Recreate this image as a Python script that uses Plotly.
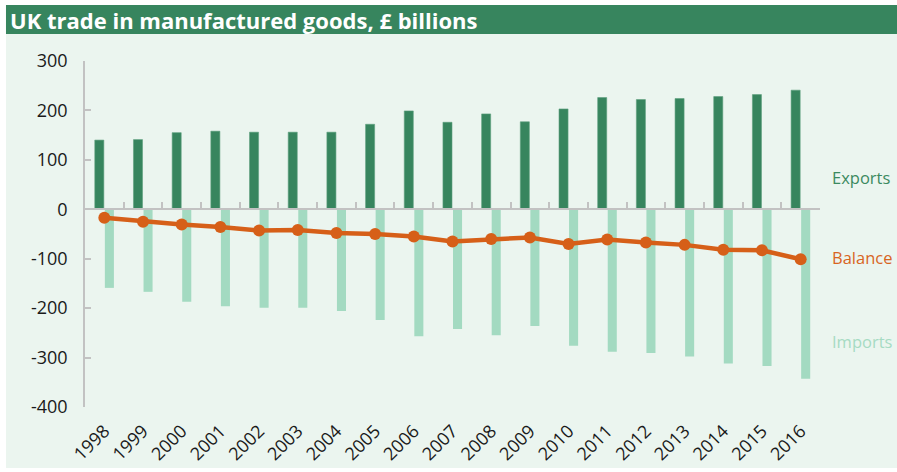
import plotly.graph_objects as go

# UK trade in manufactured goods, £ billions
years = [str(y) for y in range(1998, 2017)]
exports = [140, 141, 155, 158, 156, 156, 156, 172, 199, 176,
           193, 177, 203, 226, 222, 224, 228, 232, 241]
imports = [-159, -167, -187, -196, -199, -199, -206, -224, -257, -242,
           -255, -236, -276, -288, -291, -298, -312, -317, -343]
balance = [-17, -25, -31, -36, -43, -42, -48, -50, -55, -65,
           -60, -57, -70, -61, -67, -72, -82, -83, -101]

y_ticks = [300, 200, 100, 0, -100, -200, -300, -400]

DARK_GREEN = "#37855E"
LIGHT_GREEN = "#A3DAC1"
ORANGE = "#D65F18"
PANEL = "#EBF5EF"
AXIS_GREY = "#C2C2C2"
FONT = "Open Sans"

fig = go.Figure()

fig.add_trace(go.Bar(
    x=years, y=exports, name="Exports",
    marker=dict(color=DARK_GREEN, line=dict(color="#5E9F7D", width=0.6)),
))
fig.add_trace(go.Bar(
    x=years, y=imports, name="Imports",
    marker=dict(color=LIGHT_GREEN, line=dict(width=0)),
))
fig.add_trace(go.Scatter(
    x=years, y=balance, name="Balance", mode="lines+markers",
    line=dict(color=ORANGE, width=4.5),
    marker=dict(color=ORANGE, size=12),
))
# carrier trace for the zero-line category axis
fig.add_trace(go.Scatter(
    x=years, y=[0] * len(years), xaxis="x2", mode="none",
    hoverinfo="skip", showlegend=False,
))

# panel background and title band (paper coordinates relative to plot area)
fig.add_shape(type="rect", xref="paper", yref="paper",
              x0=-0.1075, x1=1.106, y0=-0.1763, y1=1.078,
              fillcolor=PANEL, line=dict(width=0), layer="below")
fig.add_shape(type="rect", xref="paper", yref="paper",
              x0=-0.1075, x1=1.106, y0=1.078, y1=1.1618,
              fillcolor=DARK_GREEN, line=dict(width=0), layer="below")

fig.add_annotation(
    text="<b>UK trade in manufactured goods, £ billions</b>",
    xref="paper", yref="paper", x=-0.1045, y=1.1197,
    xanchor="left", yanchor="middle", showarrow=False,
    font=dict(family=FONT, size=22, color="white"),
)

# series labels at the right
for label, yv, col in [("Exports", 65, "#3B8A60"),
                       ("Balance", -97, "#D8651F"),
                       ("Imports", -267, "#A6DBC3")]:
    fig.add_annotation(
        text=label, xref="paper", yref="y", x=1.0135, y=yv,
        xanchor="left", yanchor="middle", showarrow=False,
        font=dict(family=FONT, size=16.5, color=col),
    )

fig.update_layout(
    width=897, height=472,
    margin=dict(l=85, r=77, t=61, b=65, autoexpand=False),
    paper_bgcolor="white",
    plot_bgcolor=PANEL,
    showlegend=False,
    barmode="group",
    bargap=0.48,
    bargroupgap=0.1,
    font=dict(family=FONT, color="#1A1A1A"),
    xaxis=dict(
        type="category", range=[-0.5, len(years) - 0.5],
        showline=False, ticks="", showgrid=False, zeroline=False,
        tickangle=-45, tickfont=dict(size=18, color="#1A1A1A"),
        ticklabelstandoff=9, automargin=False,
    ),
    xaxis2=dict(
        type="category", overlaying="x", matches="x",
        anchor="free", position=400 / 700,
        showline=True, linecolor=AXIS_GREY, linewidth=2,
        ticks="inside", tickson="boundaries", ticklen=6,
        tickcolor=AXIS_GREY, tickwidth=1.5,
        showticklabels=False, showgrid=False, zeroline=False,
        automargin=False,
    ),
    yaxis=dict(
        range=[-400, 300], tickvals=y_ticks,
        ticktext=[str(v) for v in y_ticks],
        showline=True, linecolor=AXIS_GREY, linewidth=1.5,
        ticks="inside", ticklen=6, tickcolor=AXIS_GREY, tickwidth=1.5,
        showgrid=False, zeroline=False,
        tickfont=dict(size=18, color="#1A1A1A"),
        ticklabelstandoff=12, automargin=False,
    ),
)

fig.write_html("out.html")
